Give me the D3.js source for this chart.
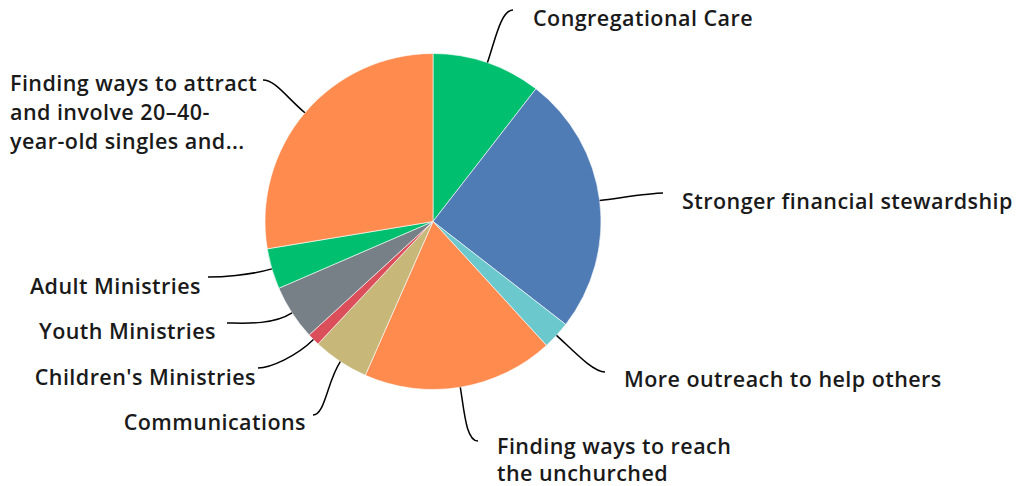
<!DOCTYPE html>
<html><head><meta charset="utf-8">
<script src="https://cdn.jsdelivr.net/npm/d3@7"></script>
<style>
html,body{margin:0;padding:0;background:#fff;}
svg text{font-family:"Open Sans",sans-serif;font-weight:600;font-size:21.5px;letter-spacing:0.45px;fill:#1a1a1a;}
</style></head>
<body><svg id="chart" width="1019" height="486"></svg>
<script>
const categories = [
  "Congregational Care",
  "Stronger financial stewardship",
  "More outreach to help others",
  "Finding ways to reach the unchurched",
  "Communications",
  "Children's Ministries",
  "Youth Ministries",
  "Adult Ministries",
  "Finding ways to attract and involve 20–40-year-old singles and..."
];
const values = [10.5, 25.0, 2.7, 18.4, 5.4, 1.2, 5.3, 3.9, 27.6];
const labelLines = [
  ["Congregational Care"],
  ["Stronger financial stewardship"],
  ["More outreach to help others"],
  ["Finding ways to reach", "the unchurched"],
  ["Communications"],
  ["Children's Ministries"],
  ["Youth Ministries"],
  ["Adult Ministries"],
  ["Finding ways to attract", "and involve 20–40-", "year-old singles and..."]
];
const colors = ["#00BF6F","#507CB6","#6BC8CD","#FF8B4F","#C7B879","#DB4F5B","#768086","#00BF6F","#FF8B4F"];

// layout: leader line end point, label position, line spacing
const layout = [
  {ex:513, ey:10,  side:1, lx:533, ly:17},
  {ex:663, ey:193, side:1, lx:682, ly:200},
  {ex:605, ey:372, side:1, lx:624, ly:378},
  {ex:478, ey:441, side:1, lx:497, ly:445, lh:27},
  {ex:313, ey:415, side:-1, lx:306, ly:421},
  {ex:258, ey:368, side:-1, lx:256, ly:376},
  {ex:227, ey:323, side:-1, lx:216, ly:330},
  {ex:208, ey:277, side:-1, lx:201, ly:285},
  {ex:263, ey:80,  side:-1, lx:10,  ly:82, lh:29, anchorStart:true}
];

const cx = 433, cy = 221.5, R = 168;
const svg = d3.select("#chart");
const g = svg.append("g").attr("transform", `translate(${cx},${cy})`);

const pie = d3.pie().sort(null).value(d => d.v);
const arcs = pie(values.map((v,i)=>({v, i})));
const arc = d3.arc().innerRadius(0).outerRadius(R);

g.selectAll("path.slice").data(arcs).enter().append("path")
  .attr("class","slice")
  .attr("d", arc)
  .attr("fill", d => colors[d.data.i])
  .attr("stroke","#fff").attr("stroke-width",0.6);

// leader lines
const lines = svg.append("g");
arcs.forEach((a, i) => {
  const L = layout[i];
  const m = (a.startAngle + a.endAngle)/2;
  const ux = Math.sin(m), uy = -Math.cos(m);
  const x0 = cx + ux*R, y0 = cy + uy*R;
  const x1 = x0 + ux*24, y1 = y0 + uy*24;
  const x2 = L.ex - L.side*12, y2 = L.ey;
  const p = d3.path();
  p.moveTo(x0,y0);
  p.bezierCurveTo(x1,y1,x2,y2,L.ex,L.ey);
  lines.append("path").attr("d", p.toString())
    .attr("fill","none").attr("stroke","#000").attr("stroke-width",1.5);
});

// labels
const labels = svg.append("g");
labelLines.forEach((ls, i) => {
  const L = layout[i];
  const anchor = (L.side > 0 || L.anchorStart) ? "start" : "end";
  const t = labels.append("text")
    .attr("x", L.lx).attr("y", L.ly)
    .attr("text-anchor", anchor)
    .attr("dominant-baseline","central");
  ls.forEach((s, j) => {
    t.append("tspan").attr("x", L.lx).attr("dy", j === 0 ? 0 : (L.lh || 28)).text(s);
  });
});
</script></body></html>
